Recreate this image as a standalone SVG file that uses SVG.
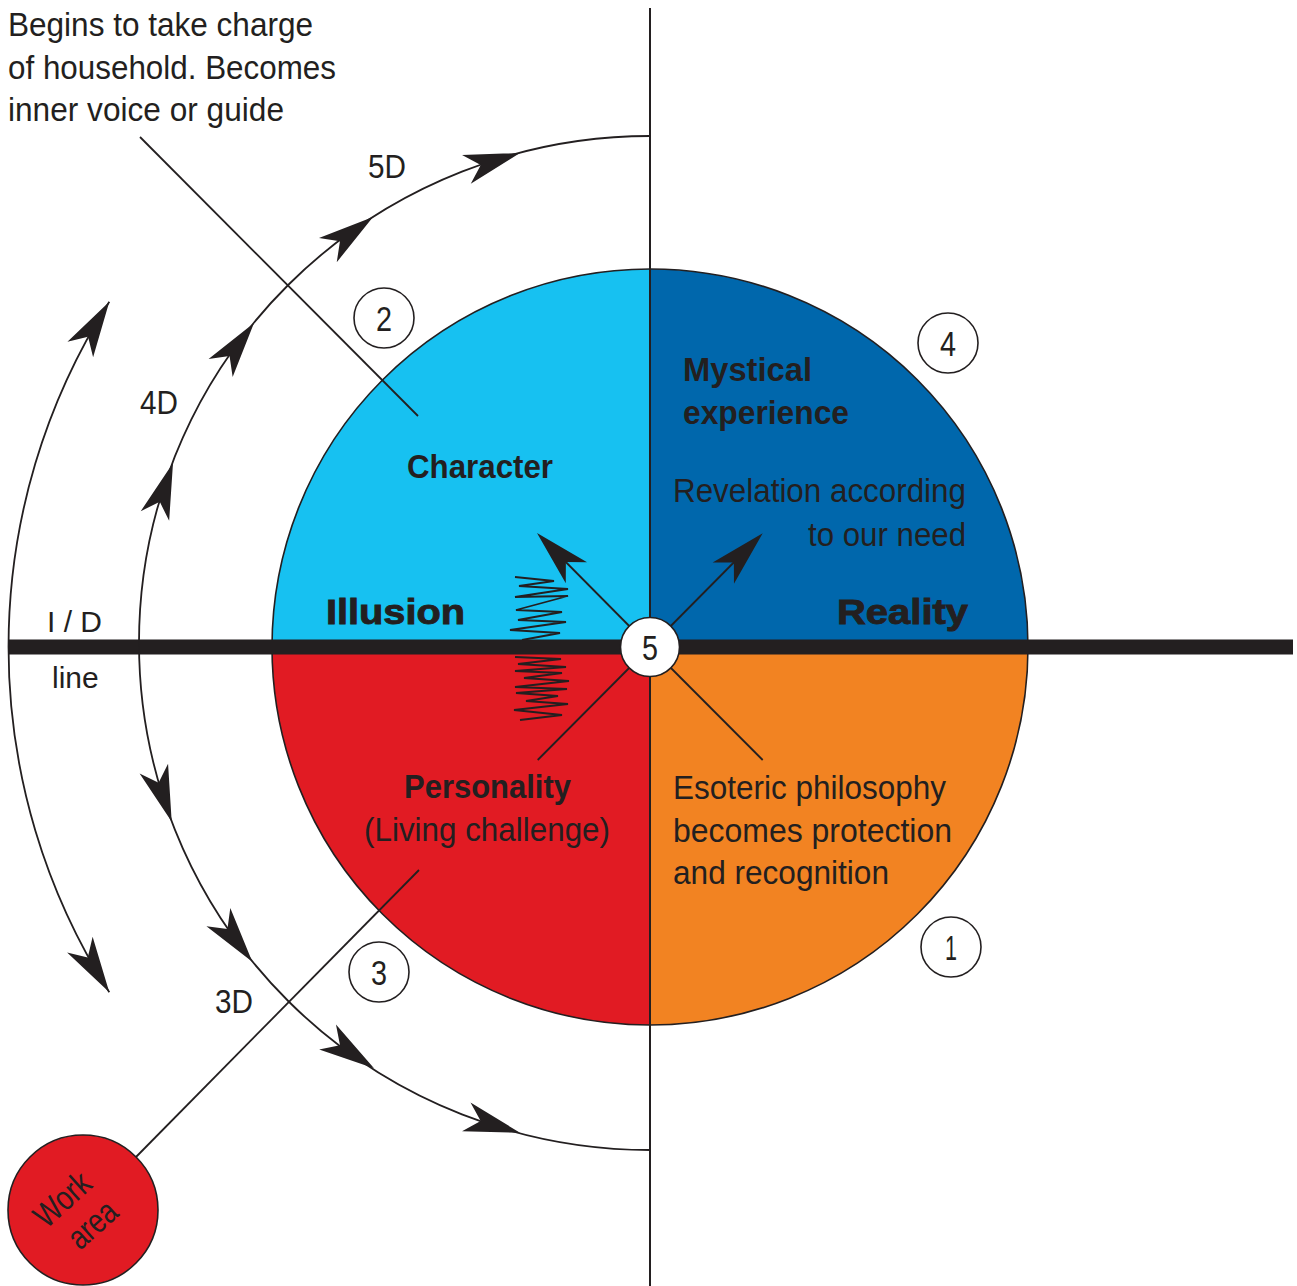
<svg xmlns="http://www.w3.org/2000/svg" xmlns:xlink="http://www.w3.org/1999/xlink" width="1297" height="1286" viewBox="0 0 1297 1286">
<style>
.ln{fill:none;stroke:#231F20;stroke-width:1.8}
.ah{fill:#231F20;stroke:none}
.nc{fill:#fff;stroke:#231F20;stroke-width:1.6}
.t{font-family:"Liberation Sans Narrow","Liberation Sans",Arial,sans-serif;fill:#231F20;font-size:34px}
.b{font-weight:bold}
.w{font-family:"Liberation Sans",Arial,sans-serif;fill:#231F20}
.blk{font-family:"Liberation Sans",Arial,sans-serif;font-weight:900;fill:#231F20;font-size:35px;stroke:#231F20;stroke-width:0.9}
.num{font-family:"Liberation Sans Narrow","Liberation Sans",Arial,sans-serif;fill:#231F20;font-size:35px;text-anchor:middle}
</style>
<defs>
<path id="ah" d="M0,0 L-56,-15 L-41,0 L-56,15 Z"/>
</defs>
<rect width="1297" height="1286" fill="#fff"/>

<g id="main-circle">
<path d="M650,647 L272,647 A378,378 0 0 1 650,269 Z" fill="#17C1F1"/>
<path d="M650,647 L650,269 A378,378 0 0 1 1028,647 Z" fill="#0067AC"/>
<path d="M650,647 L1028,647 A378,378 0 0 1 650,1025 Z" fill="#F28322"/>
<path d="M650,647 L650,1025 A378,378 0 0 1 272,647 Z" fill="#E11B23"/>
<circle cx="650" cy="647" r="378" fill="none" stroke="#231F20" stroke-width="1.6"/>
</g>

<g id="spring">
<polyline class="ln" stroke-width="2" points="515,577 554,581 519,586 568,589 515,597 568,596 516,610 562,612 518,620 566,622 510,630 560,633 522,640"/>
<polyline class="ln" stroke-width="2" points="515,657 561,659 518,664 566,667 515,671 562,673 524,678 569,681 515,687 567,689 516,693 558,696 526,701 568,704 514,710 562,715 520,720"/>
</g>

<g id="axes">
<line x1="650" y1="8" x2="650" y2="1286" stroke="#231F20" stroke-width="2"/>
<line x1="8" y1="647" x2="1293" y2="647" stroke="#231F20" stroke-width="15"/>
</g>

<g id="connectors">
<path class="ln" d="M650,136 A511,507 0 0 0 139,643 A511,507 0 0 0 650,1150"/>
<path class="ln" d="M109.3,301.7 A642,642 0 0 0 109.3,992.3"/>
<use href="#ah" class="ah" transform="translate(173,463) rotate(-71.2)"/>
<use href="#ah" class="ah" transform="translate(254,323) rotate(-53.4)"/>
<use href="#ah" class="ah" transform="translate(373,217) rotate(-36.3)"/>
<use href="#ah" class="ah" transform="translate(520,153) rotate(-16.9)"/>
<use href="#ah" class="ah" transform="translate(171.7,821.7) rotate(71.4)"/>
<use href="#ah" class="ah" transform="translate(252.3,961.7) rotate(52.7)"/>
<use href="#ah" class="ah" transform="translate(374,1068.3) rotate(34)"/>
<use href="#ah" class="ah" transform="translate(520,1132.7) rotate(16.4)"/>
<use href="#ah" class="ah" transform="translate(109.3,301.7) rotate(-58.8)"/>
<use href="#ah" class="ah" transform="translate(109.3,992.3) rotate(58.3)"/>
<line class="ln" x1="140" y1="137" x2="418" y2="416"/>
<line class="ln" x1="136" y1="1157" x2="419" y2="870"/>
<line class="ln" x1="650" y1="647" x2="545" y2="541"/>
<line class="ln" x1="650" y1="647" x2="755" y2="541"/>
<line class="ln" x1="650" y1="647" x2="537.7" y2="760"/>
<line class="ln" x1="650" y1="647" x2="762.7" y2="760"/>
<use href="#ah" class="ah" transform="translate(537,533) rotate(-134.75)"/>
<use href="#ah" class="ah" transform="translate(762.7,533.3) rotate(-45.3)"/>
</g>

<g id="node-5"><circle class="nc" cx="650" cy="647" r="29.5" stroke-width="2"/><text class="num" x="650" y="659.5" textLength="16" lengthAdjust="spacingAndGlyphs">5</text></g>
<g id="node-2"><circle class="nc" cx="384" cy="318" r="30"/><text class="num" x="384" y="330.5" textLength="16" lengthAdjust="spacingAndGlyphs">2</text></g>
<g id="node-4"><circle class="nc" cx="948" cy="343" r="30"/><text class="num" x="948" y="355.5" textLength="16" lengthAdjust="spacingAndGlyphs">4</text></g>
<g id="node-3"><circle class="nc" cx="379" cy="972" r="30"/><text class="num" x="379" y="984.5" textLength="16" lengthAdjust="spacingAndGlyphs">3</text></g>
<g id="node-1"><circle class="nc" cx="951" cy="947" r="30"/><text class="num" x="951" y="959.5" textLength="12" lengthAdjust="spacingAndGlyphs">1</text></g>

<g id="work-area">
<circle cx="83" cy="1210" r="75" fill="#E11B23" stroke="#231F20" stroke-width="1.6"/>
<text class="t" font-size="32" text-anchor="middle" transform="translate(70,1208) rotate(-42)" textLength="64" lengthAdjust="spacingAndGlyphs">Work</text>
<text class="t" font-size="32" text-anchor="middle" transform="translate(100,1233) rotate(-42)" textLength="54" lengthAdjust="spacingAndGlyphs">area</text>
</g>

<g id="note-top">
<text class="t" x="8" y="36" textLength="305" lengthAdjust="spacingAndGlyphs">Begins to take charge</text>
<text class="t" x="8" y="79" textLength="328" lengthAdjust="spacingAndGlyphs">of household. Becomes</text>
<text class="t" x="8" y="121" textLength="276" lengthAdjust="spacingAndGlyphs">inner voice or guide</text>
</g>

<g id="dim-labels">
<text class="t" x="368" y="178" font-size="34" textLength="38" lengthAdjust="spacingAndGlyphs">5D</text>
<text class="t" x="140" y="414" font-size="34" textLength="38" lengthAdjust="spacingAndGlyphs">4D</text>
<text class="t" x="215" y="1013" font-size="34" textLength="38" lengthAdjust="spacingAndGlyphs">3D</text>
<text class="w" x="47" y="632" font-size="30">I / D</text>
<text class="w" x="52" y="688" font-size="30">line</text>
</g>

<g id="quadrant-character">
<text class="t b" x="407" y="478" textLength="146" lengthAdjust="spacingAndGlyphs">Character</text>
<text class="blk" x="326" y="624" textLength="139" lengthAdjust="spacingAndGlyphs">Illusion</text>
</g>

<g id="quadrant-mystical">
<text class="w b" x="683" y="381" font-size="33" textLength="129" lengthAdjust="spacingAndGlyphs">Mystical</text>
<text class="w b" x="683" y="424" font-size="33" textLength="166" lengthAdjust="spacingAndGlyphs">experience</text>
<text class="t" x="673" y="502" textLength="293" lengthAdjust="spacingAndGlyphs">Revelation according</text>
<text class="t" x="808" y="546" textLength="158" lengthAdjust="spacingAndGlyphs">to our need</text>
<text class="blk" x="837" y="624" textLength="131" lengthAdjust="spacingAndGlyphs">Reality</text>
</g>

<g id="quadrant-personality">
<text class="t b" x="404" y="798" textLength="167" lengthAdjust="spacingAndGlyphs">Personality</text>
<text class="t" x="364" y="841" textLength="246" lengthAdjust="spacingAndGlyphs">(Living challenge)</text>
</g>

<g id="quadrant-esoteric">
<text class="t" x="673" y="799" textLength="273" lengthAdjust="spacingAndGlyphs">Esoteric philosophy</text>
<text class="t" x="673" y="842" textLength="279" lengthAdjust="spacingAndGlyphs">becomes protection</text>
<text class="t" x="673" y="884" textLength="216" lengthAdjust="spacingAndGlyphs">and recognition</text>
</g>
</svg>
